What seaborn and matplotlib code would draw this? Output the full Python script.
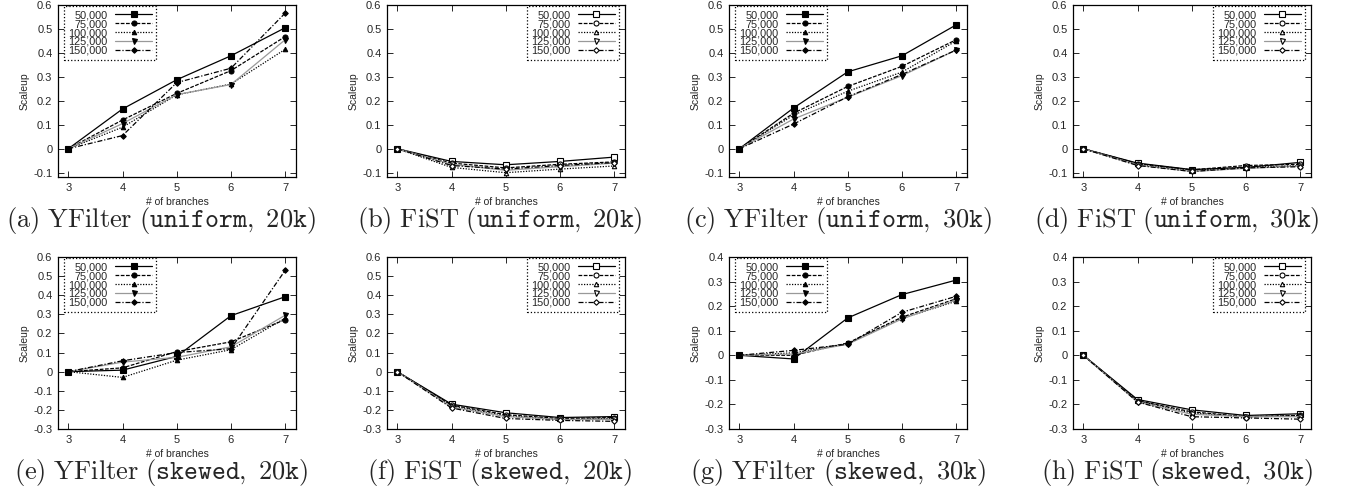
import pandas as pd
import matplotlib
matplotlib.use('Agg')
from matplotlib import pyplot as plt
from matplotlib.ticker import FuncFormatter, MultipleLocator
import seaborn as sns

branches = [3, 4, 5, 6, 7]
sizes = ['50,000', '75,000', '100,000', '125,000', '150,000']

# one row per data size, columns = # of branches 3..7
yfilter_uniform_20k = [
    [0, 0.166, 0.288, 0.388, 0.505],
    [0, 0.120, 0.231, 0.326, 0.468],
    [0, 0.090, 0.225, 0.270, 0.415],
    [0, 0.105, 0.226, 0.268, 0.455],
    [0, 0.055, 0.276, 0.336, 0.566],
]
fist_uniform_20k = [
    [0, -0.053, -0.067, -0.053, -0.035],
    [0, -0.060, -0.080, -0.065, -0.055],
    [0, -0.078, -0.100, -0.085, -0.072],
    [0, -0.065, -0.090, -0.075, -0.060],
    [0, -0.070, -0.085, -0.070, -0.058],
]
yfilter_uniform_30k = [
    [0, 0.170, 0.321, 0.388, 0.517],
    [0, 0.148, 0.260, 0.344, 0.455],
    [0, 0.140, 0.240, 0.320, 0.450],
    [0, 0.124, 0.215, 0.305, 0.412],
    [0, 0.103, 0.217, 0.310, 0.412],
]
fist_uniform_30k = [
    [0, -0.060, -0.087, -0.078, -0.057],
    [0, -0.062, -0.088, -0.070, -0.065],
    [0, -0.065, -0.090, -0.078, -0.070],
    [0, -0.068, -0.095, -0.082, -0.072],
    [0, -0.070, -0.095, -0.080, -0.075],
]
yfilter_skewed_20k = [
    [0, 0.008, 0.080, 0.293, 0.392],
    [0, 0.020, 0.105, 0.156, 0.272],
    [0, -0.030, 0.060, 0.115, 0.280],
    [0, 0.050, 0.075, 0.130, 0.295],
    [0, 0.057, 0.100, 0.120, 0.530],
]
fist_skewed_20k = [
    [0, -0.170, -0.215, -0.240, -0.235],
    [0, -0.175, -0.225, -0.245, -0.240],
    [0, -0.180, -0.230, -0.250, -0.245],
    [0, -0.185, -0.235, -0.250, -0.250],
    [0, -0.190, -0.245, -0.255, -0.260],
]
yfilter_skewed_30k = [
    [0, -0.015, 0.152, 0.247, 0.306],
    [0, 0.000, 0.050, 0.155, 0.230],
    [0, 0.010, 0.048, 0.150, 0.220],
    [0, 0.005, 0.045, 0.148, 0.225],
    [0, 0.020, 0.045, 0.175, 0.240],
]
fist_skewed_30k = [
    [0, -0.180, -0.222, -0.245, -0.238],
    [0, -0.185, -0.230, -0.250, -0.245],
    [0, -0.185, -0.235, -0.250, -0.245],
    [0, -0.190, -0.240, -0.250, -0.250],
    [0, -0.190, -0.250, -0.255, -0.260],
]

panels = [yfilter_uniform_20k, fist_uniform_20k, yfilter_uniform_30k, fist_uniform_30k,
          yfilter_skewed_20k, fist_skewed_20k, yfilter_skewed_30k, fist_skewed_30k]
captions = [
    r'$\mathrm{(a)\ YFilter\ (}\mathtt{uniform,\ 20k}\mathrm{)}$',
    r'$\mathrm{(b)\ FiST\ (}\mathtt{uniform,\ 20k}\mathrm{)}$',
    r'$\mathrm{(c)\ YFilter\ (}\mathtt{uniform,\ 30k}\mathrm{)}$',
    r'$\mathrm{(d)\ FiST\ (}\mathtt{uniform,\ 30k}\mathrm{)}$',
    r'$\mathrm{(e)\ YFilter\ (}\mathtt{skewed,\ 20k}\mathrm{)}$',
    r'$\mathrm{(f)\ FiST\ (}\mathtt{skewed,\ 20k}\mathrm{)}$',
    r'$\mathrm{(g)\ YFilter\ (}\mathtt{skewed,\ 30k}\mathrm{)}$',
    r'$\mathrm{(h)\ FiST\ (}\mathtt{skewed,\ 30k}\mathrm{)}$',
]
ylims = [(-0.118, 0.6)] * 4 + [(-0.3, 0.6), (-0.3, 0.6), (-0.3, 0.4), (-0.3, 0.4)]

# gnuplot-ish line styles
colors = ['black', 'black', 'black', '0.6', 'black']
markers = ['s', 'o', '^', 'v', 'D']
msizes = [4.5, 3.6, 3.2, 3.6, 2.8]
styles = ['-', (0, (3, 1.2)), (0, (1, 1.2)), '-', (0, (4, 1.5, 1, 1.5))]

sns.set_style('ticks')
plt.rcParams['font.family'] = ['Liberation Sans', 'DejaVu Sans']
plt.rcParams['mathtext.fontset'] = 'cm'

fig = plt.figure(figsize=(13.54, 4.99), dpi=100)
W, H = 1354, 499
lefts = [58, 387, 729, 1073]
tops = [5, 257]
aw, ah = 238, 172

fmt = FuncFormatter(lambda v, p: '0' if abs(v) < 1e-9 else f'{round(v, 1):g}')

for k, vals in enumerate(panels):
    row, col = divmod(k, 4)
    ax = fig.add_axes([lefts[col] / W, 1 - (tops[row] + ah) / H, aw / W, ah / H])
    fist = col % 2 == 1
    df = pd.DataFrame([{'branches': b, 'scaleup': v, 'size': s}
                       for s, series in zip(sizes, vals) for b, v in zip(branches, series)])
    for i, s in enumerate(sizes):
        sns.lineplot(data=df[df['size'] == s], x='branches', y='scaleup', ax=ax,
                     color=colors[i], marker=markers[i], ms=msizes[i], mew=0.8,
                     mec='black', mfc='white' if fist else 'black',
                     lw=0.9, errorbar=None, legend=False)
        ax.lines[-1].set_linestyle(styles[i])
    ax.set_xlim(2.81, 7.2)
    ax.set_ylim(*ylims[k])
    ax.set_xticks(branches)
    ax.yaxis.set_major_locator(MultipleLocator(0.1))
    ax.yaxis.set_major_formatter(fmt)
    ax.tick_params(direction='in', top=True, right=True, length=4, width=0.7,
                   labelsize=8, pad=4)
    for sp in ax.spines.values():
        sp.set_linewidth(0.9)
        sp.set_color('black')
    ax.set_xlabel('# of branches', fontsize=7.5, labelpad=3)
    ax.set_ylabel('Scaleup', fontsize=7.5, labelpad=3)

    legkw = dict(prop={'size': 7.8}, markerfirst=False, labelspacing=-0.1,
                 handlelength=3.4, handletextpad=0.7, borderpad=0.4,
                 borderaxespad=0, fancybox=False, framealpha=1, edgecolor='black')
    if fist:
        leg = ax.legend(ax.lines[-5:], sizes, loc='upper right',
                        bbox_to_anchor=(0.975, 0.995), **legkw)
    else:
        leg = ax.legend(ax.lines[-5:], sizes, loc='upper left',
                        bbox_to_anchor=(0.025, 0.995), **legkw)
    # labels right aligned, sample line on the right (gnuplot key)
    leg._legend_box.get_children()[1].get_children()[0].align = 'right'
    fr = leg.get_frame()
    fr.set_linestyle(':')
    fr.set_linewidth(0.9)

    fig.text((col * 338.5 + 169 - 8) / W, 1 - (tops[row] + 215) / H, captions[k],
             ha='center', va='center', fontsize=19)

fig.savefig('out.png', dpi=100)
